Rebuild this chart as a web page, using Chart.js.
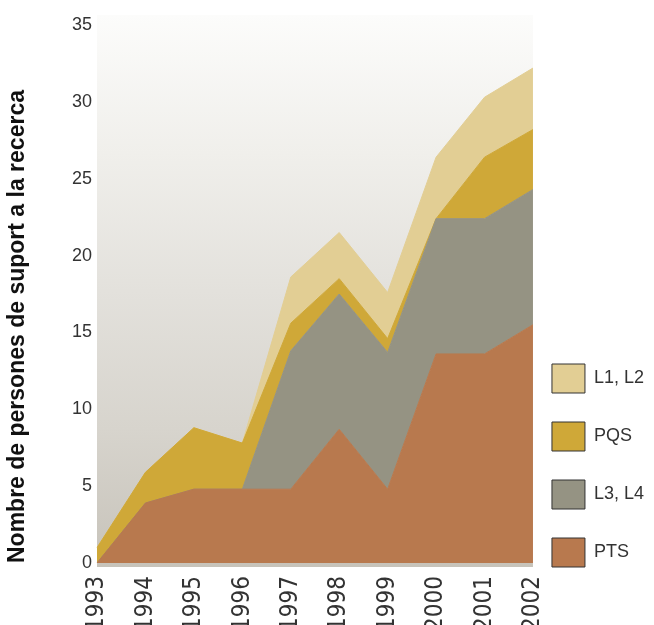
<!DOCTYPE html>
<html>
<head>
<meta charset="utf-8">
<script src="https://cdn.jsdelivr.net/npm/chart.js@4.4.1/dist/chart.umd.min.js"></script>
<style>
  html, body { margin: 0; padding: 0; background: #fff; }
  #wrap { width: 654px; height: 625px; }
</style>
</head>
<body>
<div id="wrap"><canvas id="chart"></canvas></div>
<script>
const years = ["1993","1994","1995","1996","1997","1998","1999","2000","2001","2002"];

const pts  = [0, 3.9, 4.8, 4.8, 4.8, 8.7, 4.8, 13.6, 13.6, 15.5];
const l3l4 = [0, 0, 0, 0, 9.0, 8.8, 8.9, 8.8, 8.8, 8.8];
const pqs  = [1, 2, 4, 3, 1.8, 1, 0.9, 0, 4, 3.9];
const l1l2 = [0, 0, 0, 0, 3, 3, 3, 4, 3.9, 4];

const yTitle = "Nombre de persones de suport a la recerca";

const FONT = "'Liberation Sans', Arial, sans-serif";
const NARROW = "'Liberation Sans Narrow', 'Arial Narrow', 'DejaVu Sans Condensed', sans-serif";

// soft grey gradient behind the plot
const plotBg = {
    id: "plotBg",
    beforeDraw(chart){
        const {ctx, chartArea: a} = chart;
        const top = a.top - 10, bottom = a.bottom + 4;
        const g = ctx.createLinearGradient(0, top, 0, bottom);
        g.addColorStop(0, "#fcfcfb");
        g.addColorStop(0.25, "#f0efeb");
        g.addColorStop(0.5, "#e3e1dc");
        g.addColorStop(0.75, "#d7d4cd");
        g.addColorStop(1, "#c7c3ba");
        ctx.save();
        ctx.fillStyle = g;
        ctx.fillRect(a.left, top, a.right - a.left, bottom - top);
        ctx.restore();
    }
};

function area(label, data, color, fill){
    return {
        label, data,
        backgroundColor: color,
        borderColor: color,
        borderWidth: 1,
        pointRadius: 0,
        tension: 0,
        fill
    };
}

new Chart(document.getElementById("chart"), {
    type: "line",
    data: {
        labels: years,
        datasets: [
            area("PTS", pts, "#b8794e", "origin"),
            area("L3, L4", l3l4, "#959383", "-1"),
            area("PQS", pqs, "#cfa838", "-1"),
            area("L1, L2", l1l2, "#e2ce94", "-1")
        ]
    },
    options: {
        responsive: true,
        maintainAspectRatio: false,
        animation: false,
        layout: { padding: { top: 25, bottom: 0, left: 0, right: 0 } },
        scales: {
            x: {
                offset: false,
                grid: { display: false, drawTicks: false },
                border: { display: false },
                ticks: {
                    autoSkip: false,
                    minRotation: 90,
                    maxRotation: 90,
                    padding: 13,
                    color: "#333",
                    font: { family: NARROW, size: 24 }
                },
                afterFit(s){ s.height = 62; }
            },
            y: {
                stacked: true,
                min: 0,
                max: 35,
                grid: { display: false, drawTicks: false },
                border: { display: false },
                ticks: {
                    stepSize: 5,
                    padding: 5,
                    color: "#333",
                    font: { family: FONT, size: 18 }
                },
                title: {
                    display: true,
                    text: yTitle,
                    align: "start",
                    color: "#111",
                    font: { family: FONT, size: 23, weight: "bold" }
                },
                afterFit(s){ s.width = 97; }
            }
        },
        plugins: {
            tooltip: { enabled: false },
            legend: {
                position: "right",
                align: "start",
                reverse: true,
                // empty title only pushes the items down beside the lower part of the plot
                title: {
                    display: true,
                    text: "",
                    font: { size: 1, lineHeight: "1px" },
                    padding: { top: 319, bottom: 0 }
                },
                labels: {
                    boxWidth: 33,
                    boxHeight: 29,
                    padding: 19,
                    color: "#333",
                    font: { family: FONT, size: 18, lineHeight: "39px" },
                    generateLabels(chart){
                        const base = Chart.defaults.plugins.legend.labels.generateLabels(chart);
                        return base.map(l => ({ ...l, text: [l.text], strokeStyle: "#333", lineWidth: 1 }));
                    }
                }
            }
        }
    },
    plugins: [plotBg]
});
</script>
</body>
</html>
